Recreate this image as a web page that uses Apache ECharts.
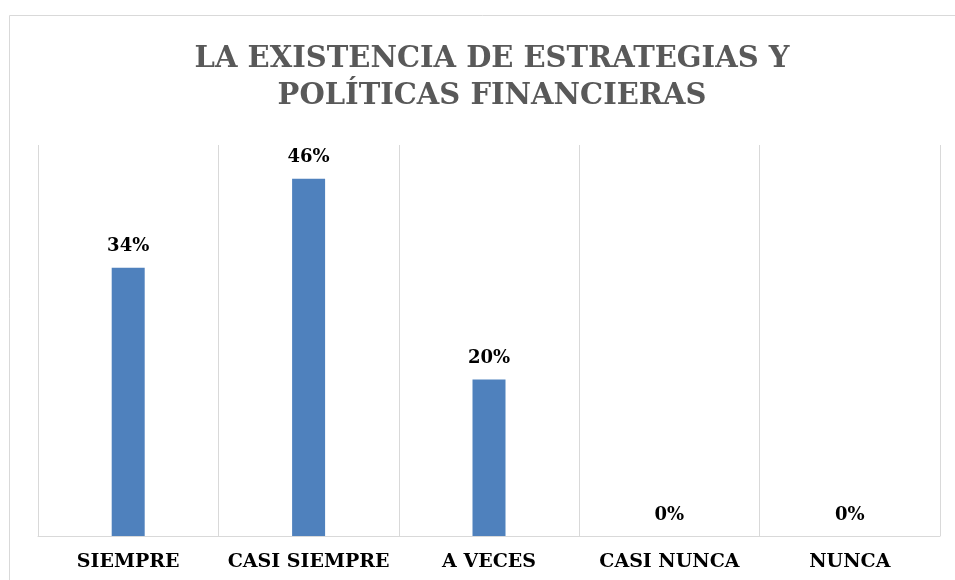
<!DOCTYPE html>
<html>
<head>
<meta charset="utf-8">
<script src="https://cdn.jsdelivr.net/npm/echarts@6/dist/echarts.min.js"></script>
<style>
  html, body { margin: 0; padding: 0; background: #fff; }
  #main { width: 955px; height: 580px; }
</style>
</head>
<body>
<div id="main"></div>
<script>
  // datos
  const categorias = ['SIEMPRE', 'CASI SIEMPRE', 'A VECES', 'CASI NUNCA', 'NUNCA']
  const porcentajes = [34.3, 45.7, 20.0, 0, 0]
  const titulo = 'LA EXISTENCIA DE ESTRATEGIAS Y\nPOLÍTICAS FINANCIERAS'

  const fuente = '"DejaVu Serif", "Liberation Serif", serif'

  const chart = echarts.init(document.getElementById('main'))
  chart.setOption({
    animation: false,
    title: {
      text: titulo,
      left: 487,
      top: 36,
      textAlign: 'center',
      textStyle: {
        color: '#595959',
        fontFamily: fuente,
        fontWeight: 'bold',
        fontSize: 29,
        lineHeight: 37
      }
    },
    graphic: [{
      type: 'rect',
      shape: { x: 9.5, y: 15.5, width: 980, height: 600 },
      style: { fill: 'none', stroke: '#d9d9d9', lineWidth: 1 },
      silent: true
    }],
    grid: { left: 38, right: 15, top: 145, bottom: 44 },
    xAxis: {
      type: 'category',
      data: categorias,
      axisLine: { lineStyle: { color: '#d9d9d9', width: 1 } },
      axisTick: { show: false },
      splitLine: { show: true, interval: 0, lineStyle: { color: '#d9d9d9', width: 1 } },
      axisLabel: {
        interval: 0,
        color: '#000',
        fontFamily: fuente,
        fontWeight: 'bold',
        fontSize: 19,
        margin: 17
      }
    },
    yAxis: {
      type: 'value',
      min: 0,
      max: 50,
      show: false
    },
    series: [{
      type: 'bar',
      data: porcentajes,
      barWidth: 33,
      itemStyle: { color: '#4f81bd' },
      label: {
        show: true,
        position: 'top',
        distance: 12,
        color: '#000',
        fontFamily: fuente,
        fontWeight: 'bold',
        fontSize: 18,
        formatter: p => Math.round(p.value) + '%'
      }
    }]
  })
</script>
</body>
</html>
